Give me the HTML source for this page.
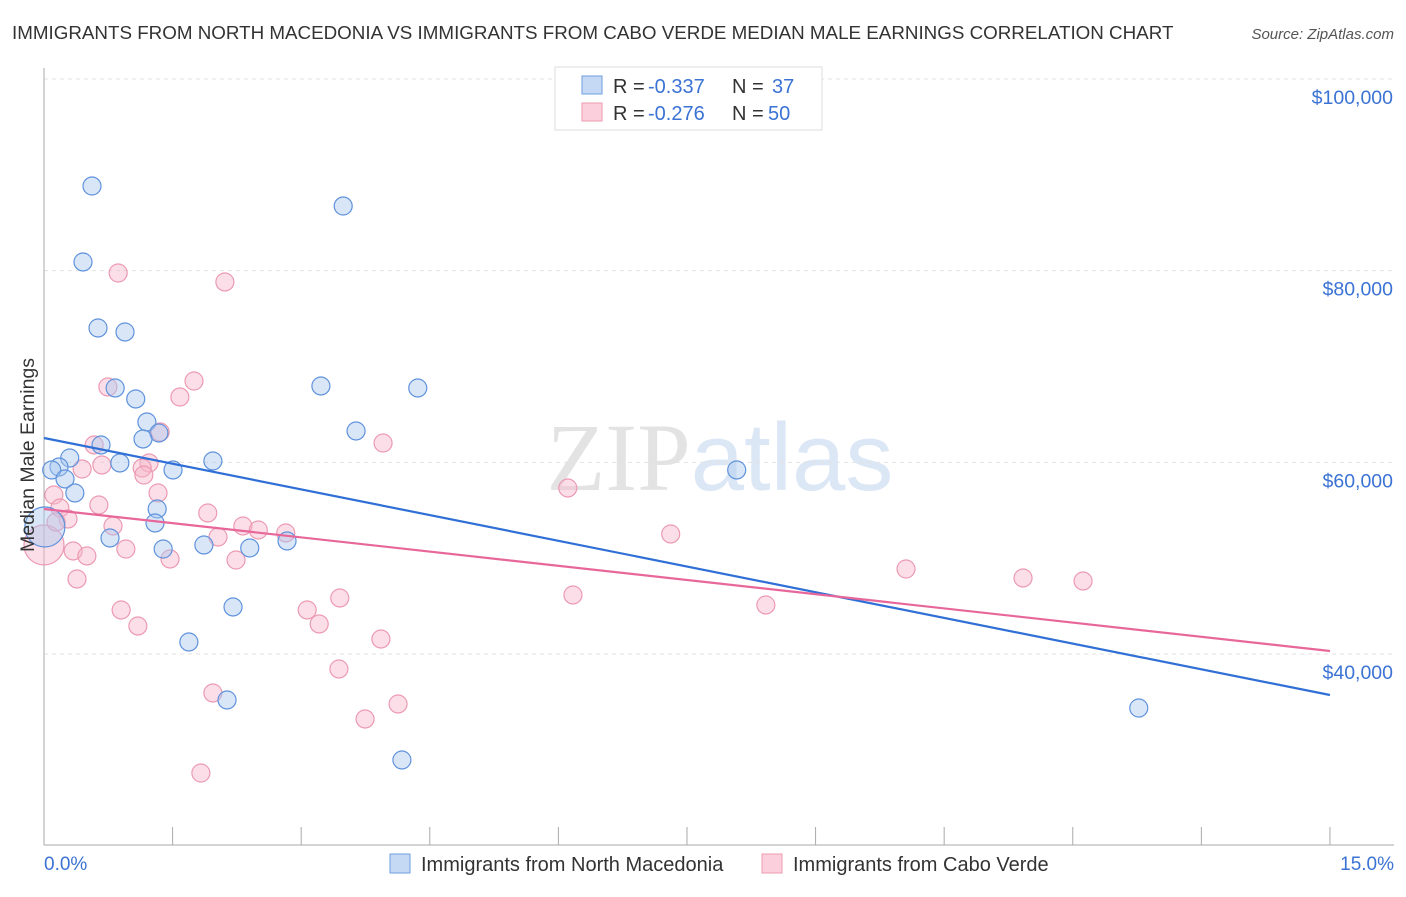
<!DOCTYPE html>
<html><head><meta charset="utf-8"><style>
body{margin:0;background:#fff;font-family:"Liberation Sans",sans-serif;}
svg text{font-family:"Liberation Sans",sans-serif;}
</style></head><body>
<svg id="chart" width="1406" height="892" xmlns="http://www.w3.org/2000/svg">
<text x="12" y="39" font-size="18.8" fill="#333">IMMIGRANTS FROM NORTH MACEDONIA VS IMMIGRANTS FROM CABO VERDE MEDIAN MALE EARNINGS CORRELATION CHART</text>
<text x="1394" y="39" font-size="15" fill="#555" font-style="italic" text-anchor="end">Source: ZipAtlas.com</text>
<text x="720" y="490" font-size="96" text-anchor="middle" opacity="0.4"><tspan font-family="Liberation Serif" fill="#bbb">ZIP</tspan><tspan fill="#aac4ea">atlas</tspan></text>
<g id="grid"></g><g id="axes"></g><g id="pts"></g><g id="lines"></g>
<text transform="translate(34,455) rotate(-90)" font-size="19.5" fill="#333" text-anchor="middle">Median Male Earnings</text>
<text x="44" y="870" font-size="19" fill="#3b73d4">0.0%</text>
<text x="1394" y="870" font-size="19" fill="#3b73d4" text-anchor="end">15.0%</text>
<g>
<rect x="555" y="67" width="267" height="63" fill="#fff" stroke="#ddd"/>
<rect x="582" y="76" width="20" height="18" fill="#c5d9f5" stroke="#6e9de0"/>
<rect x="582" y="103" width="20" height="18" fill="#fbd0dc" stroke="#ec9ab2"/>
<text x="613" y="93" font-size="20" fill="#333">R =</text>
<text x="648" y="93" font-size="20" fill="#3b73d4">-0.337</text>
<text x="732" y="93" font-size="20" fill="#333">N =</text>
<text x="772" y="93" font-size="20" fill="#3b73d4">37</text>
<text x="613" y="120" font-size="20" fill="#333">R =</text>
<text x="648" y="120" font-size="20" fill="#3b73d4">-0.276</text>
<text x="732" y="120" font-size="20" fill="#333">N =</text>
<text x="768" y="120" font-size="20" fill="#3b73d4">50</text>
</g>
<g>
<rect x="390" y="854" width="20" height="19" fill="#c5d9f5" stroke="#6e9de0"/>
<text x="421" y="871" font-size="20" fill="#333">Immigrants from North Macedonia</text>
<rect x="762" y="854" width="20" height="19" fill="#fbd0dc" stroke="#ec9ab2"/>
<text x="793" y="871" font-size="20" fill="#333">Immigrants from Cabo Verde</text>
</g>
</svg>
<script>
const blueX=[0.56,0.455,0.63,0.945,0.83,1.07,1.2,1.34,1.155,0.665,0.3,0.175,0.09,0.885,1.505,1.97,0.245,0.36,1.32,1.295,0.77,1.39,1.865,2.4,2.835,2.205,1.69,2.135,4.175,3.49,3.23,4.36,3.64,8.08,12.77,0.01];
const blueY=[88834,80904,74017,73600,67756,66608,64208,63060,62434,61808,60451,59512,59199,59930,59199,60138,58260,56799,55130,53669,52103,50955,51373,51060,51790,44903,41251,35198,28937,86747,67965,67756,63269,59199,34363,53251];
const pinkX=[0.865,2.11,1.75,0.745,1.585,1.355,3.955,0.585,1.225,0.445,0.675,1.145,1.165,1.33,0.115,0.185,0.28,0.64,1.91,0.805,2.32,2.5,2.82,2.03,6.11,7.31,0.0,0.34,0.5,0.955,1.47,2.24,0.385,10.055,11.42,12.12,0.9,1.095,3.07,3.45,3.21,6.17,8.42,3.93,3.44,1.97,3.745,4.13,1.83,0.14];
const pinkY=[79756,78817,68486,67860,66816,63164,62016,61808,59930,59303,59721,59408,58677,56799,56590,55234,54086,55547,54712,53356,53356,52938,52625,52208,57321,52521,51373,50747,50225,50955,49912,49807,47825,48868,47929,47616,44590,42920,44590,45842,43129,46155,45112,41564,38433,35929,33216,34781,27580,53773];
const blueTrend=[62538,35719];
const pinkTrend=[55130,40311];
const yTicks=[100000,80000,60000,40000];
const yTickLabels=["$100,000","$80,000","$60,000","$40,000"];
const xTicks=[1.5,3,4.5,6,7.5,9,10.5,12,13.5,15];
const NS="http://www.w3.org/2000/svg";
const X=v=>44+v*85.73, Y=v=>79+(100000-v)*0.009583;
function mk(p,t,a){const e=document.createElementNS(NS,t);for(const k in a)e.setAttribute(k,a[k]);document.getElementById(p).appendChild(e);return e;}
yTicks.forEach((v,i)=>{
 const l=mk('grid','line',{x1:44,x2:1394,y1:Y(v),y2:Y(v),stroke:'#e2e2e2','stroke-dasharray':'4,4'});
 
 
 const t=mk('grid','text',{x:1393,y:Y(v)+25,'font-size':19.5,fill:'#3b73d4','text-anchor':'end'});
 t.textContent=yTickLabels[i];
 
 
});
const ya=mk('axes','line',{x1:44,x2:44,y1:68,y2:845,stroke:'#aaa'});


const xa=mk('axes','line',{x1:44,x2:1394,y1:845,y2:845,stroke:'#aaa'});


xTicks.forEach(v=>{
 const t=mk('axes','line',{x1:X(v),x2:X(v),y1:827,y2:845,stroke:'#aaa'});
 
 
});
function pts(xs,ys,fill,stroke,name){
 xs.forEach((x,i)=>{
  const c=mk('pts','circle',{cx:X(x),cy:Y(ys[i]),r:x<0.02?20:9,fill:fill,'fill-opacity':0.45,stroke:stroke,'stroke-width':1.2});
  
  
 });
}
pts(pinkX,pinkY,'#f7b6c9','#ec9ab2','point-cabo-verde');
pts(blueX,blueY,'#a9c7f0','#5f92dc','point-north-macedonia');
const bl=mk('lines','line',{x1:X(0),x2:X(15),y1:Y(blueTrend[0]),y2:Y(blueTrend[1]),stroke:'#2f6fd6','stroke-width':2.2});


const pl=mk('lines','line',{x1:X(0),x2:X(15),y1:Y(pinkTrend[0]),y2:Y(pinkTrend[1]),stroke:'#e8679a','stroke-width':2.2});


</script>
</body></html>
